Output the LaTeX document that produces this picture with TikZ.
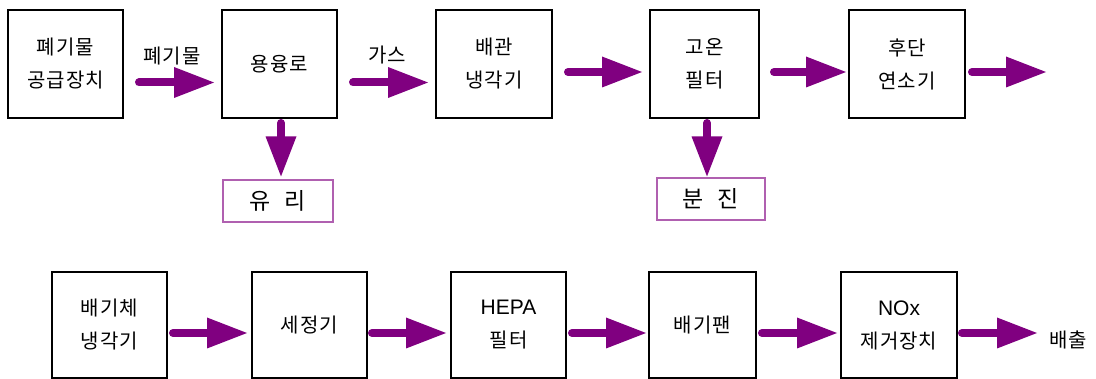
\documentclass[tikz,border=0pt]{standalone}
\usepackage{fontspec}
\usetikzlibrary{arrows.meta,calc}
\newfontfamily\kr[LetterSpace=5]{Noto Sans CJK KR}
\newfontfamily\krbig{Noto Sans CJK KR}
\newfontfamily\lat{Liberation Sans}
\definecolor{flow}{HTML}{800080}
\definecolor{outbox}{HTML}{B060B0}
\begin{document}
\begin{tikzpicture}[x=1pt,y=1pt,
  proc/.style={draw=black,line width=2pt,minimum height=108pt,inner sep=0pt,align=center,
    font=\kr\fontsize{20}{33}\selectfont},
  outp/.style={draw=outbox,line width=1.2pt,minimum height=42pt,inner sep=0pt,
    font=\krbig\fontsize{23}{26}\selectfont},
  flowarrow/.style={draw=flow,line width=8pt,line cap=round,
    -{Triangle[length=40pt,width=31pt,line width=0pt]}},
  lbl/.style={font=\kr\fontsize{20}{22}\selectfont,inner sep=0pt}]
\useasboundingbox (0,0) rectangle (1096,-379);
% top row
\node[proc,minimum width=115pt] (b1) at (65.5,-64) {폐기물\\공급장치};
\node[proc,minimum width=115pt] (b2) at (279.5,-64) {용융로};
\node[proc,minimum width=116pt] (b3) at (494,-64) {배관\\냉각기};
\node[proc,minimum width=109pt] (b4) at (704.5,-64) {고온\\필터};
\node[proc,minimum width=116pt] (b5) at (907,-64) {후단\\연소기};
\node[outp,minimum width=110pt] (glass) at (278,-201) {유\hspace{0.6em}리};
\node[outp,minimum width=108pt] (dust) at (711,-199) {분\hspace{0.6em}진};
\coordinate (topend) at (1046,-72);
\coordinate (botend) at (1037,-333);
\node[lbl] (l1) at (172,-56) {폐기물};
\node[lbl] (l2) at (387,-55) {가스};
\draw[flowarrow] ([xshift=15pt,yshift=-18.5pt]b1.east) -- ([xshift=-7pt,yshift=-18.5pt]b2.west);
\draw[flowarrow] ([xshift=15pt,yshift=-18.5pt]b2.east) -- ([xshift=-7pt,yshift=-18.5pt]b3.west);
\draw[flowarrow] ([xshift=15pt,yshift=-8pt]b3.east) -- ([xshift=-7pt,yshift=-8pt]b4.west);
\draw[flowarrow] ([xshift=14pt,yshift=-8pt]b4.east) -- ([xshift=-2pt,yshift=-8pt]b5.west);
\draw[flowarrow] ([xshift=6pt,yshift=-8pt]b5.east) -- (topend);
\draw[flowarrow] ([xshift=1.5pt,yshift=-4pt]b2.south) -- ([xshift=3pt,yshift=3pt]glass.north);
\draw[flowarrow] ([xshift=2.5pt,yshift=-4pt]b4.south) -- ([xshift=-4pt,yshift=1pt]dust.north);
% bottom row
\node[proc,minimum width=115pt,minimum height=106pt] (c1) at (109.5,-325) {배기체\\냉각기};
\node[proc,minimum width=115pt,minimum height=106pt] (c2) at (309.5,-325) {세정기};
\node[proc,minimum width=115pt,minimum height=106pt] (c3) at (508.5,-325) {{\lat\fontsize{21}{33}\selectfont HEPA}\\필터};
\node[proc,minimum width=107pt,minimum height=106pt] (c4) at (702.5,-325) {배기팬};
\node[proc,minimum width=116pt,minimum height=106pt] (c5) at (899,-325) {{\lat\fontsize{21}{33}\selectfont NOx}\\제거장치};
\node[lbl] (out) at (1068,-340) {배출};
\draw[flowarrow] ([xshift=5pt,yshift=-8pt]c1.east) -- ([xshift=-4pt,yshift=-8pt]c2.west);
\draw[flowarrow] ([xshift=4pt,yshift=-8pt]c2.east) -- ([xshift=-4pt,yshift=-8pt]c3.west);
\draw[flowarrow] ([xshift=5pt,yshift=-8pt]c3.east) -- ([xshift=-2pt,yshift=-8pt]c4.west);
\draw[flowarrow] ([xshift=5pt,yshift=-8pt]c4.east) -- ([xshift=-3pt,yshift=-8pt]c5.west);
\draw[flowarrow] ([xshift=4pt,yshift=-8pt]c5.east) -- (botend);
\end{tikzpicture}
\end{document}
